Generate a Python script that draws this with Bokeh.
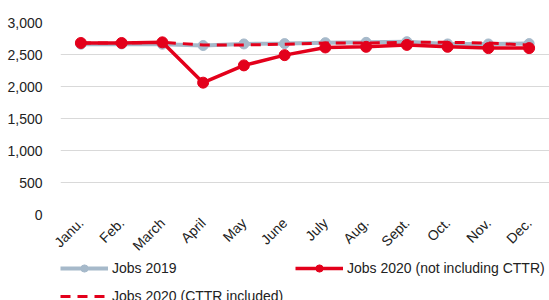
import math
from bokeh.plotting import figure
from bokeh.models import Legend, LegendItem, NumeralTickFormatter, Range1d
from bokeh.layouts import column
from bokeh.embed import file_html
from bokeh.resources import INLINE

months = ["Janu.", "Feb.", "March", "April", "May", "June", "July", "Aug.", "Sept.", "Oct.", "Nov.", "Dec."]
jobs_2019 = [2660, 2665, 2660, 2640, 2665, 2670, 2685, 2690, 2700, 2665, 2665, 2670]
jobs_2020_excl = [2680, 2680, 2690, 2060, 2330, 2490, 2610, 2620, 2650, 2620, 2600, 2600]
jobs_2020_cttr = [2680, 2680, 2690, 2650, 2650, 2660, 2680, 2680, 2690, 2690, 2680, 2645]
series_names = ["Jobs 2019", "Jobs 2020 (not including CTTR)", "Jobs 2020 (CTTR included)"]

FONT = "Liberation Sans"
GRAY = "#A6B9CA"
RED = "#E3001B"

p = figure(x_range=months, y_range=Range1d(0, 3000), width=549, height=262,
           output_backend="svg", toolbar_location=None,
           min_border_top=22, min_border_right=0, min_border_left=60, min_border_bottom=0)
p.outline_line_color = None
p.xgrid.grid_line_color = None
p.ygrid.grid_line_color = "#D9D9D9"
p.ygrid.grid_line_width = 1

p.yaxis.axis_line_color = None
p.yaxis.major_tick_line_color = None
p.yaxis.minor_tick_line_color = None
p.yaxis.formatter = NumeralTickFormatter(format="0,0")
p.yaxis.ticker = [0, 500, 1000, 1500, 2000, 2500, 3000]
p.yaxis.major_label_text_font = FONT
p.yaxis.major_label_text_font_size = "14px"
p.yaxis.major_label_text_color = "#222222"
p.yaxis.major_label_standoff = 12

p.xaxis.axis_line_color = None
p.xaxis.major_tick_line_color = None
p.xaxis.minor_tick_line_color = None
p.xaxis.major_label_orientation = math.pi / 4
p.xaxis.major_label_text_font = FONT
p.xaxis.major_label_text_font_size = "14px"
p.xaxis.major_label_text_color = "#222222"
p.xaxis.major_label_standoff = 0

p.line(months, jobs_2019, line_color=GRAY, line_width=4)
p.scatter(months, jobs_2019, size=10, fill_color=GRAY, line_color=GRAY)
p.line(months, jobs_2020_cttr, line_color=RED, line_width=3, line_dash="10 7")
p.line(months, jobs_2020_excl, line_color=RED, line_width=3.5)
p.scatter(months, jobs_2020_excl, size=11, fill_color=RED, line_color=RED)

# legend strip below the chart (series drawn out of view, only their legend keys show)
lg = figure(width=549, height=38, x_range=months, y_range=Range1d(0, 1),
            output_backend="svg", toolbar_location=None,
            min_border_top=0, min_border_right=0, min_border_left=0, min_border_bottom=0)
lg.outline_line_color = None
lg.axis.visible = False
lg.grid.visible = False
k1 = lg.line(months, jobs_2019, line_color=GRAY, line_width=4)
k1m = lg.scatter(months, jobs_2019, size=10, fill_color=GRAY, line_color=GRAY)
k2 = lg.line(months, jobs_2020_excl, line_color=RED, line_width=3.5)
k2m = lg.scatter(months, jobs_2020_excl, size=11, fill_color=RED, line_color=RED)
k3 = lg.line(months, jobs_2020_cttr, line_color=RED, line_width=3, line_dash="10 7")

legend = Legend(items=[
    LegendItem(label=series_names[0], renderers=[k1, k1m]),
    LegendItem(label=series_names[1], renderers=[k2, k2m]),
    LegendItem(label=series_names[2], renderers=[k3]),
], orientation="horizontal", ncols=2, location=(0, -5),
    glyph_width=48, glyph_height=18, label_height=18, label_width=173,
    label_standoff=4, spacing=10,
    label_text_font=FONT, label_text_font_size="14px", label_text_color="#222222",
    padding=0, margin=0, border_line_color=None, background_fill_alpha=0)
lg.add_layout(legend, "center")

layout = column(p, lg, spacing=0)
open("out.html", "w").write(file_html(layout, INLINE))
